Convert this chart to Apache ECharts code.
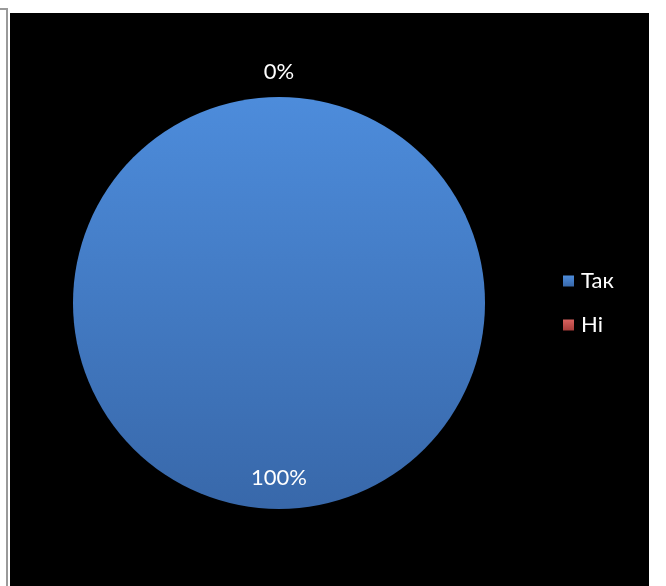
<!DOCTYPE html>
<html>
<head>
<meta charset="utf-8">
<script src="https://cdn.jsdelivr.net/npm/echarts@6/dist/echarts.min.js"></script>
<style>
  html, body { margin: 0; padding: 0; background: #fff; width: 666px; height: 586px; overflow: hidden; }
  .frame { position: absolute; left: -2px; top: 8px; width: 8px; height: 600px;
           border-top: 2px solid #9a9a9a; border-right: 2px solid #9a9a9a; }
  #chart { position: absolute; left: 10px; top: 13px; width: 639px; height: 573px; background: #000; }
</style>
</head>
<body>
<div class="frame"></div>
<div id="chart"></div>
<script>
const categories = ['Так', 'Ні']
const values = [100, 0]
const percentLabels = ['100%', '0%']
const colors = [
  ['#4d8cdb', '#3868aa'],
  ['#d9625f', '#a83d3a']
]

const chart = echarts.init(document.getElementById('chart'))

const grad = c => new echarts.graphic.LinearGradient(0, 0, 0, 1, [
  { offset: 0, color: c[0] },
  { offset: 1, color: c[1] }
])

const center = [269, 290]
const font = 'Lato, "Open Sans", sans-serif'

// transparent ring series used only to place the labels
const labelSeries = (radius, idx) => ({
  type: 'pie',
  radius: radius,
  center: center,
  startAngle: 90,
  clockwise: true,
  silent: true,
  legendHoverLink: false,
  itemStyle: { color: 'transparent', borderWidth: 0 },
  labelLine: { show: false },
  emphasis: { disabled: true },
  data: categories.map((name, i) => ({
    name: name + '_l',
    value: values[i],
    label: {
      show: i === idx,
      position: 'inside',
      formatter: percentLabels[i],
      color: '#fff',
      fontSize: 22,
      fontFamily: font
    }
  }))
})

chart.setOption({
  backgroundColor: '#000',
  animation: false,
  legend: {
    orient: 'vertical',
    left: 548,
    top: 252,
    itemWidth: 11,
    itemHeight: 11,
    itemGap: 22,
    icon: 'rect',
    data: categories,
    textStyle: {
      color: '#fff',
      fontSize: 22,
      fontFamily: font,
      padding: [0, 0, 0, 2]
    }
  },
  series: [
    {
      type: 'pie',
      radius: 206,
      center: center,
      startAngle: 90,
      clockwise: true,
      label: { show: false },
      labelLine: { show: false },
      emphasis: { disabled: true },
      itemStyle: {
        borderWidth: 0,
        shadowColor: 'rgba(0,0,0,0.6)',
        shadowBlur: 6,
        shadowOffsetY: 3
      },
      data: categories.map((name, i) => ({
        name: name,
        value: values[i],
        itemStyle: { color: grad(colors[i]) }
      }))
    },
    labelSeries([139, 205], 0),
    labelSeries([206, 250], 1)
  ]
})
</script>
</body>
</html>
